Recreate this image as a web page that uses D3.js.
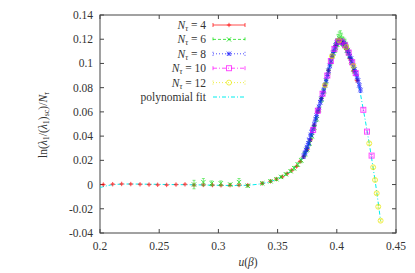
<!DOCTYPE html>
<html>
<head>
<meta charset="utf-8">
<script src="https://cdn.jsdelivr.net/npm/d3@7"></script>
<style>
  body { margin: 0; background: #fff; }
</style>
</head>
<body>
<div id="container"></div>
<script>
// data
const xTicks = [0.2, 0.25, 0.3, 0.35, 0.4, 0.45];
const yTicks = [-0.04, -0.02, 0, 0.02, 0.04, 0.06, 0.08, 0.1, 0.12, 0.14];
const yTickLabels = ["-0.04", "-0.02", "0", "0.02", "0.04", "0.06", "0.08", "0.1", "0.12", "0.14"];

// N_tau = 4
const u4 = [0.2028, 0.2107, 0.2183, 0.226, 0.2338, 0.2414, 0.2487, 0.2563, 0.2642, 0.2718, 0.2794, 0.2873, 0.295, 0.3022, 0.3098, 0.3174, 0.3248, 0.337, 0.344, 0.349, 0.354, 0.358, 0.362, 0.366, 0.369, 0.372, 0.375, 0.378, 0.381, 0.384, 0.387, 0.390, 0.393, 0.396, 0.399, 0.402, 0.405, 0.408, 0.411, 0.414, 0.417];
const v4 = [0, 0.0003, 0.0005, 0.0004, 0.0002, 0, -0.0002, -0.0003, 0, 0.0002, -0.0004, -0.0003, -0.0004, -0.0006, -0.0005, -0.0004, -0.0005, 0.001, 0.0027, 0.0045, 0.0065, 0.009, 0.0118, 0.015, 0.019, 0.023, 0.029, 0.037, 0.049, 0.06, 0.071, 0.082, 0.094, 0.106, 0.115, 0.119, 0.117, 0.112, 0.104, 0.094, 0.086];
const e4 = [0.0005, 0.0005, 0.0005, 0.0005, 0.0005, 0.0005, 0.0005, 0.0005, 0.0005, 0.0005, 0.0006, 0.0006, 0.0006, 0.0006, 0.0006, 0.0006, 0.0006, 0.0006, 0.0006, 0.0006, 0.0006, 0.0006, 0.0008, 0.0008, 0.0008, 0.001, 0.001, 0.001, 0.001, 0.001, 0.001, 0.001, 0.001, 0.001, 0.001, 0.001, 0.001, 0.001, 0.001, 0.001, 0.001];

// N_tau = 6
const u6 = [0.2794, 0.2873, 0.2943, 0.302, 0.31, 0.3174, 0.3248, 0.337, 0.344, 0.349, 0.353, 0.357, 0.361, 0.364, 0.367, 0.370, 0.373, 0.375, 0.377, 0.379, 0.381, 0.383, 0.385, 0.387, 0.389, 0.391, 0.393, 0.395, 0.397, 0.399, 0.400, 0.401, 0.402, 0.403, 0.404, 0.405, 0.406, 0.407, 0.408, 0.409, 0.410, 0.412, 0.414];
const v6 = [0, 0.002, 0.001, 0.001, 0, 0.002, -0.001, 0.001, 0.0027, 0.0044, 0.0063, 0.0085, 0.011, 0.0135, 0.0165, 0.02, 0.025, 0.029, 0.034, 0.04, 0.047, 0.054, 0.062, 0.07, 0.077, 0.085, 0.093, 0.101, 0.108, 0.113, 0.116, 0.119, 0.121, 0.122, 0.12, 0.118, 0.117, 0.116, 0.113, 0.111, 0.108, 0.102, 0.095];
const e6 = [0.0035, 0.003, 0.002, 0.002, 0.001, 0.003, 0.001, 0.001, 0.001, 0.001, 0.001, 0.001, 0.001, 0.0015, 0.0015, 0.002, 0.002, 0.002, 0.002, 0.002, 0.002, 0.002, 0.002, 0.002, 0.002, 0.002, 0.003, 0.003, 0.003, 0.004, 0.004, 0.005, 0.005, 0.005, 0.005, 0.004, 0.004, 0.004, 0.004, 0.003, 0.003, 0.003, 0.003];

// N_tau = 8
const u8 = [0.372, 0.373, 0.374, 0.375, 0.376, 0.377, 0.378, 0.379, 0.380, 0.381, 0.382, 0.383, 0.384, 0.385, 0.386, 0.387, 0.388, 0.389, 0.390, 0.391, 0.392, 0.393, 0.394, 0.395, 0.396, 0.397, 0.398, 0.399, 0.400, 0.401, 0.402, 0.403, 0.404, 0.405, 0.406, 0.407, 0.408, 0.409, 0.410, 0.411, 0.412, 0.413, 0.414, 0.415, 0.416, 0.417, 0.418, 0.419, 0.420];
const v8 = [0.0235, 0.026, 0.0285, 0.031, 0.034, 0.037, 0.041, 0.043, 0.046, 0.05, 0.054, 0.057, 0.061, 0.064, 0.068, 0.071, 0.075, 0.078, 0.082, 0.086, 0.09, 0.094, 0.098, 0.102, 0.106, 0.109, 0.112, 0.115, 0.117, 0.118, 0.119, 0.1185, 0.118, 0.117, 0.1165, 0.115, 0.1135, 0.111, 0.109, 0.106, 0.104, 0.101, 0.098, 0.095, 0.092, 0.089, 0.086, 0.082, 0.078];
const e8 = [0.002, 0.002, 0.003, 0.003, 0.004, 0.004, 0.004, 0.003, 0.003, 0.003, 0.003, 0.003, 0.002, 0.002, 0.002, 0.002, 0.002, 0.002, 0.002, 0.002, 0.002, 0.002, 0.002, 0.002, 0.002, 0.002, 0.002, 0.002, 0.002, 0.002, 0.002, 0.002, 0.002, 0.002, 0.002, 0.002, 0.002, 0.002, 0.002, 0.002, 0.002, 0.002, 0.002, 0.002, 0.002, 0.002, 0.002, 0.002, 0.002];

// N_tau = 10
const u10 = [0.380, 0.384, 0.388, 0.392, 0.395, 0.398, 0.401, 0.404, 0.407, 0.410, 0.413, 0.416, 0.4224, 0.4255, 0.4294];
const v10 = [0.045, 0.061, 0.075, 0.09, 0.102, 0.112, 0.118, 0.118, 0.115, 0.109, 0.101, 0.092, 0.0617, 0.0437, 0.0239];
const e10 = [0.001, 0.001, 0.001, 0.001, 0.001, 0.001, 0.001, 0.001, 0.001, 0.001, 0.001, 0.001, 0.001, 0.001, 0.001];

// N_tau = 12
const u12 = [0.390, 0.396, 0.402, 0.408, 0.414, 0.4274, 0.4307, 0.4323, 0.4337, 0.435, 0.437];
const v12 = [0.082, 0.106, 0.119, 0.1135, 0.098, 0.034, 0.0143, 0.0038, -0.0072, -0.0183, -0.0298];
const e12 = [0.001, 0.001, 0.001, 0.001, 0.001, 0.001, 0.001, 0.001, 0.001, 0.001, 0.001];

// polynomial fit
const fitU = [0.200, 0.205, 0.210, 0.220, 0.240, 0.260, 0.280, 0.300, 0.315, 0.325, 0.335, 0.345, 0.355, 0.362, 0.368, 0.373, 0.378, 0.382, 0.386, 0.390, 0.394, 0.398, 0.401, 0.404, 0.407, 0.410, 0.414, 0.418, 0.422, 0.426, 0.430, 0.434, 0.437];
const fitV = [-0.0025, -0.0012, -0.0002, 0.0004, 0.0003, 0, -0.0002, -0.0006, -0.0008, -0.0005, 0.0005, 0.0028, 0.0072, 0.0118, 0.018, 0.0255, 0.0395, 0.054, 0.068, 0.0815, 0.098, 0.112, 0.118, 0.119, 0.115, 0.109, 0.097, 0.084, 0.064, 0.042, 0.018, -0.008, -0.03];

const legendLabels = ["4", "6", "8", "10", "12"];

const W = 415, H = 273;
const margin = { left: 100, right: 19, top: 15, bottom: 40 };
const FONT = "'Liberation Serif', 'DejaVu Serif', serif";

const svg = d3.select("#container").append("svg")
    .attr("width", W).attr("height", H)
    .attr("font-family", FONT);

const x = d3.scaleLinear().domain([0.2, 0.45]).range([margin.left, W - margin.right]);
const y = d3.scaleLinear().domain([-0.04, 0.14]).range([H - margin.bottom, margin.top]);

// series styles (gnuplot default colours / point types)
const series = [
    { u: u4, v: v4, e: e4, color: "#ff0000", pt: "plus", dash: null },
    { u: u6, v: v6, e: e6, color: "#00dd00", pt: "cross", dash: "3,2" },
    { u: u8, v: v8, e: e8, color: "#0000ff", pt: "star", dash: "1,2" },
    { u: u10, v: v10, e: e10, color: "#ff00ff", pt: "box", dash: "4,2,1,2" },
    { u: u12, v: v12, e: e12, color: "#e8e800", pt: "circle", dash: "1,2" },
];

const drawPoint = (g, type, cx, cy, color) => {
    const s = 2.2;
    if (type === "plus" || type === "star") {
        g.append("path").attr("d", `M${cx - s},${cy}H${cx + s}M${cx},${cy - s}V${cy + s}`)
            .attr("stroke", color).attr("fill", "none");
    }
    if (type === "cross" || type === "star") {
        g.append("path").attr("d", `M${cx - s},${cy - s}L${cx + s},${cy + s}M${cx - s},${cy + s}L${cx + s},${cy - s}`)
            .attr("stroke", color).attr("fill", "none");
    }
    if (type === "box") {
        g.append("rect").attr("x", cx - 2.5).attr("y", cy - 2.5).attr("width", 5).attr("height", 5)
            .attr("stroke", color).attr("fill", "none");
    }
    if (type === "circle") {
        g.append("circle").attr("cx", cx).attr("cy", cy).attr("r", 2.5)
            .attr("stroke", color).attr("fill", "none");
    }
};

// axes frame and ticks
const frame = svg.append("g").attr("stroke", "#444").attr("stroke-width", 1);
frame.append("rect")
    .attr("x", margin.left).attr("y", margin.top)
    .attr("width", W - margin.left - margin.right)
    .attr("height", H - margin.top - margin.bottom)
    .attr("fill", "none");

xTicks.forEach((t) => {
    frame.append("line").attr("x1", x(t)).attr("x2", x(t))
        .attr("y1", y(-0.04)).attr("y2", y(-0.04) - 4);
    frame.append("line").attr("x1", x(t)).attr("x2", x(t))
        .attr("y1", y(0.14)).attr("y2", y(0.14) + 4);
    svg.append("text").attr("x", x(t)).attr("y", H - margin.bottom + 17)
        .attr("text-anchor", "middle").attr("font-size", 11.5).attr("fill", "#333").text(t);
});

yTicks.forEach((t, i) => {
    frame.append("line").attr("x1", x(0.2)).attr("x2", x(0.2) + 4)
        .attr("y1", y(t)).attr("y2", y(t));
    frame.append("line").attr("x1", x(0.45)).attr("x2", x(0.45) - 4)
        .attr("y1", y(t)).attr("y2", y(t));
    svg.append("text").attr("x", margin.left - 7).attr("y", y(t) + 4)
        .attr("text-anchor", "end").attr("font-size", 11.5).attr("fill", "#333").text(yTickLabels[i]);
});

// axis titles
const xt = svg.append("text").attr("x", 248).attr("y", 266)
    .attr("text-anchor", "middle").attr("font-size", 11.5).attr("fill", "#333");
xt.append("tspan").attr("font-style", "italic").text("u");
xt.append("tspan").text("(");
xt.append("tspan").attr("font-style", "italic").text("β");
xt.append("tspan").text(")");

const yt = svg.append("text").attr("transform", "translate(47,125) rotate(-90)")
    .attr("text-anchor", "middle").attr("font-size", 11.5).attr("fill", "#333");
yt.append("tspan").text("ln(");
yt.append("tspan").attr("font-style", "italic").text("λ");
yt.append("tspan").attr("font-size", 8).attr("dy", 2).text("1");
yt.append("tspan").attr("dy", -2).text("/(");
yt.append("tspan").attr("font-style", "italic").text("λ");
yt.append("tspan").attr("font-size", 8).attr("dy", 2).text("1");
yt.append("tspan").attr("dy", -2).text(")");
yt.append("tspan").attr("font-size", 8).attr("dy", 2).text("sc");
yt.append("tspan").attr("dy", -2).text(")/");
yt.append("tspan").attr("font-style", "italic").text("N");
yt.append("tspan").attr("font-size", 8).attr("font-style", "italic").attr("dy", 2).text("τ");

// plot area
const plot = svg.append("g").attr("stroke-width", 1);

// polynomial fit line
const fitLine = d3.line().x((d) => x(d[0])).y((d) => y(d[1])).curve(d3.curveCatmullRom);
plot.append("path")
    .datum(d3.zip(fitU, fitV))
    .attr("d", fitLine)
    .attr("fill", "none")
    .attr("stroke", "#00eeee")
    .attr("stroke-dasharray", "4,2,1,2")
    .attr("stroke-width", 1);

series.forEach((s) => {
    const g = plot.append("g").attr("opacity", 0.7);
    s.u.forEach((u, i) => {
        const cx = x(u), cy = y(s.v[i]);
        const y1 = y(s.v[i] - s.e[i]), y2 = y(s.v[i] + s.e[i]);
        g.append("path")
            .attr("d", `M${cx},${y1}V${y2}M${cx - 1.5},${y1}H${cx + 1.5}M${cx - 1.5},${y2}H${cx + 1.5}`)
            .attr("stroke", s.color).attr("fill", "none").attr("stroke-width", 0.7);
        drawPoint(g, s.pt, cx, cy, s.color);
    });
});

// legend
const legend = svg.append("g");
const rowY = (i) => 25 + i * 14.4;
series.forEach((s, i) => {
    const ty = rowY(i);
    const t = legend.append("text").attr("x", 206).attr("y", ty + 4)
        .attr("text-anchor", "end").attr("font-size", 11.5).attr("fill", "#333");
    t.append("tspan").attr("font-style", "italic").text("N");
    t.append("tspan").attr("font-size", 8).attr("font-style", "italic").attr("dy", 2).text("τ");
    t.append("tspan").attr("dy", -2).text(" = " + legendLabels[i]);
    legend.append("path")
        .attr("d", `M213,${ty}H245M213,${ty - 2}V${ty + 2}M245,${ty - 2}V${ty + 2}`)
        .attr("stroke", s.color).attr("fill", "none").attr("opacity", 0.7)
        .attr("stroke-dasharray", s.dash);
    drawPoint(legend.append("g").attr("opacity", 0.7), s.pt, 229, ty, s.color);
});
legend.append("text").attr("x", 206).attr("y", rowY(5) + 4)
    .attr("text-anchor", "end").attr("font-size", 11.5).attr("fill", "#333").text("polynomial fit");
legend.append("line").attr("x1", 213).attr("x2", 245)
    .attr("y1", rowY(5)).attr("y2", rowY(5))
    .attr("stroke", "#00eeee").attr("stroke-dasharray", "4,2,1,2");
</script>
</body>
</html>
